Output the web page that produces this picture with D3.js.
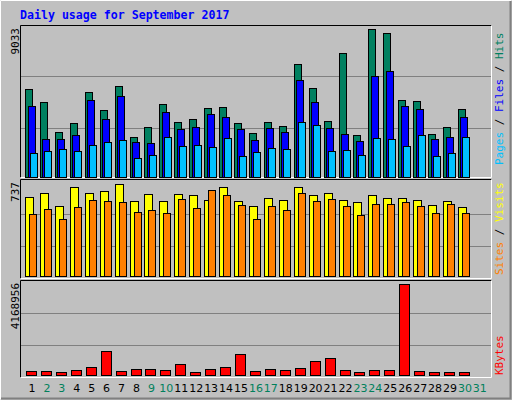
<!DOCTYPE html>
<html><head><meta charset="utf-8">
<script src="https://cdn.jsdelivr.net/npm/d3@7"></script>
<style>body{margin:0;background:#fff}svg{display:block}</style>
</head><body>
<script>
const days = d3.range(1, 32);
const weekend = [2,3,9,10,16,17,23,24,30,31];
const hits  = [5355,4558,2719,3270,5171,4068,5539,2412,3025,4435,3332,3516,4190,4252,3270,2657,3332,3086,6888,5417,3393,7563,2535,9033,8789,4681,4619,2596,3025,4129,0];
const files = [4313,2289,2289,2535,4681,3516,4926,2105,2044,3945,2902,3025,3822,3638,2902,2228,2964,2719,5907,4558,2964,2596,2167,6152,6459,4313,4129,2289,2412,3638,0];
const pages = [1431,1553,1676,1553,1921,2105,2228,1124,1308,2412,1860,1921,1799,2351,1247,1492,1737,1676,3332,3148,1553,1615,1308,2351,2289,1860,2535,1247,1431,2412,0];
const visits= [633,665,561,713,665,681,737,601,657,601,657,649,609,713,601,561,625,609,713,649,665,609,593,649,625,625,609,569,601,553,0];
const sites = [497,537,457,553,609,601,593,513,529,505,617,545,689,649,569,457,561,529,665,601,617,561,489,577,577,593,561,505,577,505,0];
const kbytes= [183000,183000,137000,229000,382000,1100000,183000,275000,275000,229000,504000,137000,275000,382000,962000,183000,275000,229000,321000,641000,794000,229000,137000,229000,229000,4168956,183000,137000,137000,137000,0];
const maxTop = 9033, maxMid = 737, maxBot = 4168956;

const W=512,H=400;
const svg=d3.select("body").append("svg").attr("width",W).attr("height",H);
svg.append("rect").attr("width",W).attr("height",H).attr("fill","#c0c0c0");
// outer 3d border
svg.append("path").attr("d","M0.5,399.5V0.5H511.5").attr("stroke","#fff").attr("fill","none");
svg.append("path").attr("d","M1,398.5H510.5V1").attr("stroke","#808080").attr("stroke-width",2).attr("fill","none");

svg.append("text").attr("x",20).attr("y",19).text("Daily usage for September 2017")
  .attr("font-family","DejaVu Sans Mono").attr("font-weight","bold").attr("font-size","11.6px").attr("fill","#0000ff");

const x=d3.scaleBand().domain(days).range([25,25+31*14.93]).padding(0);
const font="DejaVu Sans Mono";

function panel(y0,y1,base,top,max){
  svg.append("rect").attr("x",20.5).attr("y",y0+0.5).attr("width",471).attr("height",y1-y0).attr("fill","#c0c0c0");
  const y=d3.scaleLinear().domain([0,max]).range([base,top]);
  [0.33,0.68].forEach(f=>{
    svg.append("line").attr("x1",21).attr("x2",491).attr("y1",Math.round(y(max*f))+0.5).attr("y2",Math.round(y(max*f))+0.5).attr("stroke","#808080");
  });
  svg.append("path").attr("d",`M20.5,${y1+0.5}V${y0+0.5}H491.5`).attr("stroke","#000").attr("fill","none");
  svg.append("path").attr("d",`M20.5,${y1+0.5}H491.5V${y0+0.5}`).attr("stroke","#fff").attr("fill","none");
  svg.append("text").attr("transform",`translate(19,${y0+3}) rotate(-90)`).attr("text-anchor","end")
    .attr("font-family",font).attr("font-size","11px").attr("fill","#000").text(max);
  return y;
}
function bars(y,data,off,w,color){
  svg.append("g").selectAll("rect").data(data.map((v,i)=>({d:days[i],v})).filter(o=>o.v>0)).join("rect")
    .attr("x",o=>Math.round(x(o.d)+off)+0.5).attr("width",w)
    .attr("y",o=>Math.round(y(o.v))+0.5).attr("height",o=>Math.max(0,Math.round(y(0))-Math.round(y(o.v))))
    .attr("fill",color).attr("stroke","#000");
}
const yT=panel(25,177,176.7,29.3,maxTop);
bars(yT,hits,0,7,"#008060");
bars(yT,files,2.5,7,"#0000ff");
bars(yT,pages,4.5,7,"#00c0ff");
const yM=panel(179,278,276.3,184.3,maxMid);
bars(yM,visits,0,8,"#ffff00");
bars(yM,sites,4,7,"#ff8000");
const yB=panel(280,377,375.3,284.3,maxBot);
bars(yB,kbytes,1,10,"#ff0000");

// day labels
svg.append("g").selectAll("text").data(days).join("text")
  .attr("x",d=>x(d)+x.bandwidth()/2-0.5).attr("y",392).attr("text-anchor","middle")
  .attr("font-family","DejaVu Sans").attr("font-size","11px")
  .attr("fill",d=>weekend.includes(d)?"#00805c":"#000").text(d=>d);

// right legends
function legend(yEnd,parts){
  const t=svg.append("text").attr("transform",`translate(503,${yEnd}) rotate(-90)`)
    .attr("font-family",font).attr("font-size","11px");
  parts.forEach(([s,c])=>t.append("tspan").attr("fill",c).text(s));
}
legend(165,[["Pages","#00c0ff"],[" / ","#000"],["Files","#0000ff"],[" / ","#000"],["Hits","#008060"]]);
legend(275,[["Sites","#ff8000"],[" / ","#000"],["Visits","#ffff00"]]);
legend(375,[["KBytes","#ff0000"]]);
</script>
</body></html>
